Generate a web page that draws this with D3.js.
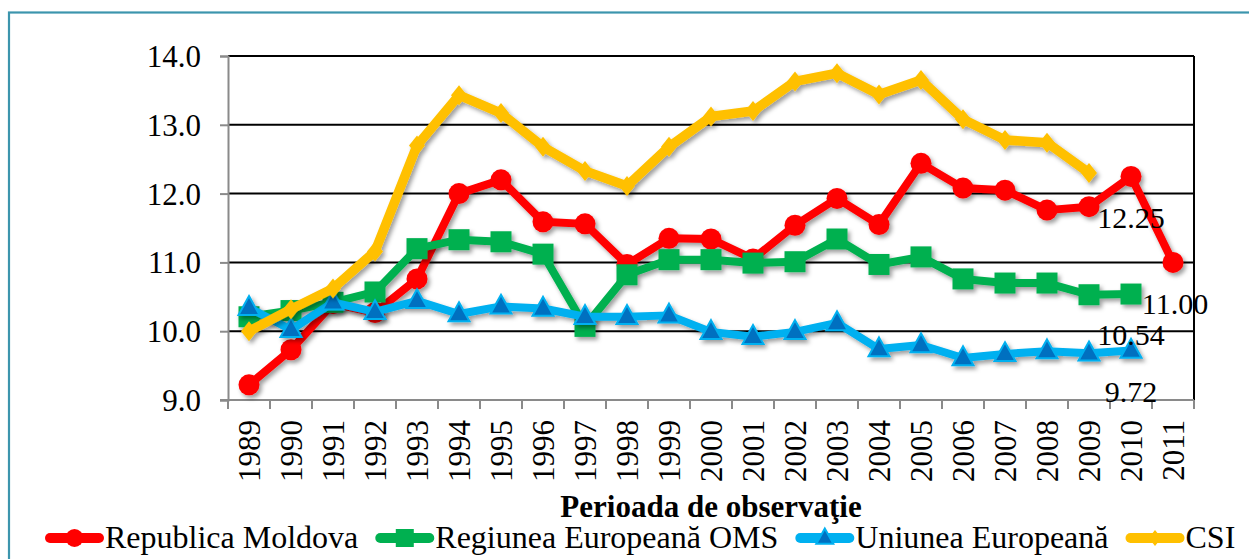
<!DOCTYPE html>
<html>
<head>
<meta charset="utf-8">
<script src="https://cdn.jsdelivr.net/npm/d3@7"></script>
<style>
  html, body { margin: 0; padding: 0; background: #fff; }
  svg { display: block; }
  text { font-family: "Liberation Serif", "Times New Roman", serif; fill: #000; }
</style>
</head>
<body>
<svg id="chart" width="1249" height="559"></svg>
<script>
// ---------- data ----------
const years = ["1989","1990","1991","1992","1993","1994","1995","1996","1997","1998","1999","2000","2001","2002","2003","2004","2005","2006","2007","2008","2009","2010","2011"];
const moldova = [9.22, 9.73, 10.40, 10.27, 10.76, 12.00, 12.20, 11.59, 11.56, 10.97, 11.35, 11.34, 11.05, 11.54, 11.93, 11.55, 12.44, 12.08, 12.05, 11.76, 11.81, 12.25, 11.00];
const regiuneaOMS = [10.21, 10.30, 10.42, 10.57, 11.20, 11.33, 11.30, 11.12, 10.07, 10.82, 11.04, 11.04, 10.99, 11.01, 11.34, 10.97, 11.08, 10.76, 10.70, 10.70, 10.53, 10.54, null];
const uniuneaEU = [10.34, 10.02, 10.42, 10.28, 10.44, 10.25, 10.36, 10.33, 10.21, 10.21, 10.23, 9.99, 9.92, 9.99, 10.12, 9.74, 9.80, 9.61, 9.67, 9.71, 9.68, 9.72, null];
const csi = [10.00, 10.32, 10.62, 11.16, 12.70, 13.43, 13.17, 12.68, 12.33, 12.11, 12.68, 13.12, 13.20, 13.63, 13.75, 13.44, 13.65, 13.08, 12.78, 12.74, 12.30, null, null];
const yTicks = [9, 10, 11, 12, 13, 14];
const seriesNames = ["Republica Moldova", "Regiunea Europeană OMS", "Uniunea Europeană", "CSI"];
const xTitle = "Perioada de observaţie";
// data labels: [series index, year]
const dataLabels = [[0, "2010"], [0, "2011"], [1, "2010"], [2, "2010"]];

// ---------- setup ----------
const svg = d3.select("#chart");
const pLeft = 228, pRight = 1194, pTop = 56, pBottom = 400;

const x = d3.scaleBand().domain(years).range([pLeft, pRight]).padding(0);
const y = d3.scaleLinear().domain([9, 14]).range([pBottom, pTop]);
const cx = d => x(d) + x.bandwidth() / 2;

const defs = svg.append("defs");
const f = defs.append("filter").attr("id", "shadow").attr("x", "-20%").attr("y", "-20%").attr("width", "140%").attr("height", "140%");
f.append("feDropShadow").attr("dx", 2.5).attr("dy", 3).attr("stdDeviation", 2)
  .attr("flood-color", "#000").attr("flood-opacity", 0.38);

// outer border
svg.append("rect").attr("x", 9).attr("y", 12.5).attr("width", 1300).attr("height", 600)
  .attr("fill", "none").attr("stroke", "#3C95AD").attr("stroke-width", 2.2);

// gridlines
svg.append("g").selectAll("line").data(yTicks.filter(t => t > 9)).join("line")
  .attr("x1", pLeft).attr("x2", pRight)
  .attr("y1", d => y(d)).attr("y2", d => y(d))
  .attr("stroke", "#000").attr("stroke-width", 2);

// right frame
svg.append("line").attr("x1", pRight).attr("x2", pRight).attr("y1", pTop).attr("y2", pBottom)
  .attr("stroke", "#000").attr("stroke-width", 2);

// y axis
const yAxis = svg.append("g").attr("transform", `translate(${pLeft},0)`)
  .call(d3.axisLeft(y).tickValues(yTicks).tickFormat(d3.format(".1f")).tickSize(8).tickPadding(19));
yAxis.select(".domain").attr("stroke", "#8A8A8A").attr("stroke-width", 2);
yAxis.selectAll(".tick line").attr("stroke", "#8A8A8A").attr("stroke-width", 2);
yAxis.selectAll(".tick text").attr("font-size", 31).attr("font-family", "Liberation Serif").attr("dy", "0.34em");

// x axis (labels)
const xAxis = svg.append("g").attr("transform", `translate(0,${pBottom})`)
  .call(d3.axisBottom(x).tickSize(0).tickPadding(0));
xAxis.select(".domain").remove();
xAxis.selectAll(".tick text")
  .attr("font-size", 31).attr("font-family", "Liberation Serif")
  .attr("transform", "rotate(-90)")
  .attr("x", -20).attr("y", 0).attr("dy", "0.34em")
  .attr("text-anchor", "end");
// x axis line and boundary ticks
const bounds = years.map(d => x(d)).concat([x(years[years.length - 1]) + x.bandwidth()]);
svg.append("g").selectAll("line").data(bounds).join("line")
  .attr("x1", d => d).attr("x2", d => d).attr("y1", pBottom).attr("y2", pBottom + 9)
  .attr("stroke", "#8A8A8A").attr("stroke-width", 2);
svg.append("line").attr("x1", pLeft - 8).attr("x2", pRight).attr("y1", pBottom).attr("y2", pBottom)
  .attr("stroke", "#8A8A8A").attr("stroke-width", 2);

// ---------- series ----------
const colors = ["#FF0000", "#00B050", "#00B0F0", "#FFC000"];
const allSeries = [moldova, regiuneaOMS, uniuneaEU, csi];
const widths = [8, 8, 8, 9.5];

function drawMarker(g, i, px, py, legend) {
  if (i === 0) {
    g.append("circle").attr("cx", px).attr("cy", py).attr("r", legend ? 9 : 10.5).attr("fill", colors[0]);
  } else if (i === 1) {
    const s = legend ? 18 : 21;
    g.append("rect").attr("x", px - s / 2).attr("y", py - s / 2).attr("width", s).attr("height", s).attr("fill", colors[1]);
  } else if (i === 2) {
    const s = legend ? 17 : 21;
    const h = s * 0.9;
    g.append("path")
      .attr("d", `M${px},${py - h * 0.62} L${px + s / 2},${py + h * 0.38} L${px - s / 2},${py + h * 0.38} Z`)
      .attr("fill", "#0070C0").attr("stroke", "#00B0F0").attr("stroke-width", 2).attr("stroke-linejoin", "miter");
  } else {
    const r = legend ? 8 : 10;
    g.append("path")
      .attr("d", `M${px},${py - r} L${px + r * 0.8},${py} L${px},${py + r} L${px - r * 0.8},${py} Z`)
      .attr("fill", colors[3]);
  }
}

allSeries.forEach((vals, i) => {
  const pts = years.map((yr, k) => ({ yr, v: vals[k] })).filter(p => p.v !== null);
  const g = svg.append("g").attr("filter", "url(#shadow)");
  const line = d3.line().x(p => cx(p.yr)).y(p => y(p.v));
  g.append("path").datum(pts).attr("d", line)
    .attr("fill", "none").attr("stroke", colors[i]).attr("stroke-width", widths[i])
    .attr("stroke-linejoin", "round").attr("stroke-linecap", "round");
  pts.forEach(p => drawMarker(g, i, cx(p.yr), y(p.v), false));
});

// data labels
dataLabels.forEach(([si, yr]) => {
  const v = allSeries[si][years.indexOf(yr)];
  svg.append("text")
    .attr("x", cx(yr) + (yr === "2011" ? 2 : 0)).attr("y", y(v) + 41).attr("dy", "0.34em")
    .attr("text-anchor", "middle").attr("font-size", 30)
    .text(d3.format(".2f")(v));
});

// axis title
svg.append("text").attr("x", (pLeft + pRight) / 2).attr("y", 517)
  .attr("text-anchor", "middle").attr("font-size", 31).attr("font-weight", "bold")
  .text(xTitle);

// legend
let lx = 45;
const ly = 538;
seriesNames.forEach((name, i) => {
  const g = svg.append("g");
  g.append("line").attr("x1", lx + 5).attr("x2", lx + 54).attr("y1", ly).attr("y2", ly)
    .attr("stroke", colors[i]).attr("stroke-width", 10).attr("stroke-linecap", "round");
  drawMarker(g, i, lx + 29.5, ly, true);
  const t = g.append("text").attr("x", lx + 60).attr("y", ly).attr("dy", "0.3em")
    .attr("font-size", 32).text(name);
  lx = lx + 60 + t.node().getComputedTextLength() + 17;
});
</script>
</body>
</html>
